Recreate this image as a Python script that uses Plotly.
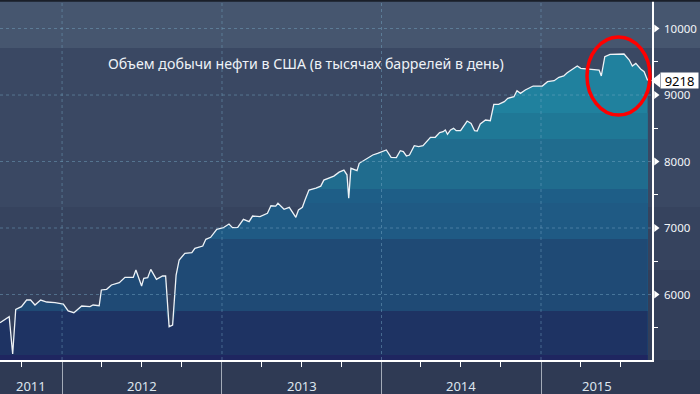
import plotly.graph_objects as go
import pandas as pd

# ---------------- data ----------------
dates = [
    "2011-08-12", "2011-09-02", "2011-09-10", "2011-09-17", "2011-09-30", "2011-10-12",
    "2011-10-21", "2011-10-31", "2011-11-13", "2011-11-27", "2011-12-16", "2012-01-04",
    "2012-01-15", "2012-01-28", "2012-02-15", "2012-03-05", "2012-03-12", "2012-03-26",
    "2012-03-31", "2012-04-12", "2012-04-23", "2012-05-11", "2012-05-24", "2012-06-12",
    "2012-06-18", "2012-07-01", "2012-07-06", "2012-07-15", "2012-07-22", "2012-08-04",
    "2012-08-18", "2012-08-25", "2012-09-02", "2012-09-10", "2012-09-18", "2012-09-25",
    "2012-10-08", "2012-10-24", "2012-10-31", "2012-11-18", "2012-11-25", "2012-12-06",
    "2012-12-20", "2013-01-04", "2013-01-17", "2013-01-25", "2013-02-06", "2013-02-19",
    "2013-03-04", "2013-03-12", "2013-03-29", "2013-04-15", "2013-04-23", "2013-05-04",
    "2013-05-09", "2013-05-23", "2013-06-04", "2013-06-19", "2013-06-25", "2013-07-04",
    "2013-07-10", "2013-07-19", "2013-08-04", "2013-08-15", "2013-08-22", "2013-09-03",
    "2013-09-14", "2013-09-26", "2013-10-07", "2013-10-14", "2013-10-18", "2013-10-23",
    "2013-11-06", "2013-11-11", "2013-11-26", "2013-12-04", "2013-12-12", "2013-12-23",
    "2014-01-02", "2014-01-12", "2014-01-23", "2014-02-04", "2014-02-13", "2014-02-20",
    "2014-02-27", "2014-03-06", "2014-03-17", "2014-03-27", "2014-04-06", "2014-04-23",
    "2014-05-04", "2014-05-14", "2014-05-22", "2014-05-27", "2014-06-01", "2014-06-08",
    "2014-06-15", "2014-06-21", "2014-07-01", "2014-07-16", "2014-07-25", "2014-08-02",
    "2014-08-08", "2014-08-15", "2014-08-27", "2014-09-07", "2014-09-15", "2014-09-26",
    "2014-10-09", "2014-10-17", "2014-10-31", "2014-11-07", "2014-11-15", "2014-11-26",
    "2014-12-14", "2015-01-04", "2015-01-16", "2015-01-23", "2015-01-31", "2015-02-11",
    "2015-02-22", "2015-03-02", "2015-03-16", "2015-03-25", "2015-04-02", "2015-04-17",
    "2015-05-14", "2015-05-19", "2015-05-27", "2015-06-08", "2015-06-25", "2015-07-10",
    "2015-07-22", "2015-07-29", "2015-08-06", "2015-08-17", "2015-08-25", "2015-09-02",
]
production = [
    5576, 5666, 5105, 5777, 5817, 5917,
    5917, 5842, 5917, 5887, 5877, 5857,
    5752, 5726, 5827, 5817, 5842, 5832,
    6068, 6078, 6143, 6178, 6258, 6258,
    6368, 6128, 6243, 6253, 6378, 6228,
    6278, 6278, 5516, 5541, 6293, 6519,
    6619, 6629, 6695, 6729, 6830, 6860,
    6980, 7005, 7060, 7005, 7010, 7130,
    7095, 7180, 7170, 7221, 7335, 7330,
    7371, 7281, 7311, 7161, 7271, 7311,
    7421, 7571, 7600, 7630, 7720, 7750,
    7780, 7840, 7870, 7800, 7450, 7898,
    7862, 7973, 8033, 8063, 8098, 8123,
    8148, 8173, 8063, 8058, 8163, 8148,
    8083, 8098, 8238, 8223, 8238, 8364,
    8364, 8434, 8449, 8474, 8409, 8474,
    8499, 8464, 8464, 8609, 8574, 8464,
    8459, 8564, 8624, 8614, 8860, 8860,
    8900, 8950, 8975, 9065, 9025, 9075,
    9135, 9135, 9200, 9211, 9215, 9266,
    9286, 9336, 9401, 9436, 9401, 9391,
    9376, 9286, 9576, 9612, 9617, 9617,
    9526, 9436, 9476, 9391, 9351, 9218,
]
title_text = "Объем добычи нефти в США (в тысячах баррелей в день)"
last_label = "9218"
y_ticks = [6000, 7000, 8000, 9000, 10000]
y_minor = [5500, 6500, 7500, 8500, 9500]
year_starts = ["2012-01-01", "2013-01-01", "2014-01-01", "2015-01-01"]
year_labels = ["2011", "2012", "2013", "2014", "2015"]
quarter_ticks = ["2011-10-01", "2012-04-01", "2012-07-01", "2012-10-01",
                 "2013-04-01", "2013-07-01", "2013-10-01", "2014-04-01",
                 "2014-07-01", "2014-10-01", "2015-04-01", "2015-07-01"]
x_range = ["2011-08-12", "2015-09-12"]
y_range = [5015, 10429]

# ---------------- style ----------------
W, H = 700, 394
PW, PH = 652.0, 360.0          # plot area size in px (left/top margins are 0)
band_tops = [None, 8729, 8338, 7586, 7376, 6835, 5752, 5090]
band_colors = ["#20819e", "#1f7896", "#206c8e", "#1e5e87", "#1f5a84",
               "#1f4a75", "#1e3363", "#1f2660"]
bg_bands = [  # (paper y0, y1, colour)
    (0.8667, 1.0, "#46566f"),
    (0.425, 0.8667, "#3a4863"),
    (0.25, 0.425, "#36435e"),
    (0.0, 0.25, "#333f5a"),
]
FONT = "Noto Sans"

fig = go.Figure()

for top, col in zip(band_tops, band_colors):
    yv = production if top is None else [min(v, top) for v in production]
    fig.add_trace(go.Scatter(x=dates, y=yv, mode="lines", fill="tozeroy",
                             fillcolor=col, line=dict(width=0), hoverinfo="skip",
                             showlegend=False))

fig.add_trace(go.Scatter(x=dates, y=production, mode="lines",
                         line=dict(color="#eef2f6", width=1.3), showlegend=False))

# marker layer spanning the full figure width in pixels (x2 axis = pixels)
fig.add_trace(go.Scatter(x=[PW + 4] * len(y_ticks), y=y_ticks, xaxis="x2", yaxis="y",
                         mode="markers", hoverinfo="skip", showlegend=False,
                         marker=dict(symbol="triangle-right", size=7, color="white")))
fig.add_trace(go.Scatter(x=[PW + 5], y=[production[-1]], xaxis="x2", yaxis="y",
                         mode="markers", hoverinfo="skip", showlegend=False,
                         marker=dict(symbol="triangle-left", size=12, color="white")))

shapes = []
for y0, y1, c in bg_bands:
    shapes.append(dict(type="rect", xref="paper", yref="paper", x0=-0.01, x1=1.1,
                       y0=y0, y1=y1, fillcolor=c, line=dict(width=0), layer="below"))
grid_col = "rgba(120,170,200,0.45)"
for t in y_ticks:
    shapes.append(dict(type="line", xref="x domain", yref="y", x0=0, x1=1, y0=t, y1=t,
                       line=dict(color=grid_col, width=1, dash="dot"), layer="above"))
for d in year_starts:
    shapes.append(dict(type="line", xref="x", yref="paper", x0=d, x1=d, y0=0, y1=1,
                       line=dict(color=grid_col, width=1, dash="dot"), layer="above"))
# red circle
shapes.append(dict(type="circle", xref="paper", yref="paper",
                   x0=587 / W, x1=650 / W, y0=(PH - 115) / PH, y1=(PH - 37) / PH,
                   line=dict(color="#ff0000", width=3.5), layer="above"))
# top dark strip
shapes.append(dict(type="rect", xref="paper", yref="paper", x0=-0.01, x1=1.1,
                   y0=0.995, y1=1.01, fillcolor="#1a1f29", line=dict(width=0), layer="above"))

annotations = [
    dict(text=title_text, xref="paper", yref="paper", x=305.5 / W, y=(PH - 63) / PH,
         showarrow=False, font=dict(family=FONT, size=14.2, color="#eef2f7"),
         xanchor="center", yanchor="middle"),
    dict(text=last_label, xref="paper", yref="y", x=660 / W, y=production[-1],
         xanchor="left", yanchor="middle", showarrow=False, bgcolor="white",
         width=37, height=15, borderpad=0,
         font=dict(family=FONT, size=13, color="black")),
]
x0 = pd.Timestamp(x_range[0]); x1 = pd.Timestamp(x_range[1])
bounds = [x0] + [pd.Timestamp(d) for d in year_starts] + [x1]
for i, lab in enumerate(year_labels):
    mid = bounds[i] + (bounds[i + 1] - bounds[i]) / 2
    annotations.append(dict(text=lab, xref="x", yref="paper", x=mid, y=-0.072,
                            showarrow=False, xanchor="center", yanchor="middle",
                            font=dict(family=FONT, size=13, color="#dde5ee")))

fig.update_layout(
    width=W, height=H,
    margin=dict(l=0, r=0, t=0, b=34),
    paper_bgcolor="#2f3a54", plot_bgcolor="rgba(0,0,0,0)",
    shapes=shapes, annotations=annotations,
    xaxis=dict(type="date", range=x_range, domain=[0, PW / W], showgrid=False,
               zeroline=False, showline=True, linecolor="white", linewidth=1.5,
               tickvals=year_starts, ticks="outside", ticklen=34, tickwidth=1,
               tickcolor="#a3abb8", showticklabels=False,
               minor=dict(tickvals=quarter_ticks, ticks="outside", ticklen=5,
                          tickwidth=1, tickcolor="white")),
    xaxis2=dict(domain=[0, 1], range=[0, W], visible=False, anchor="y"),
    yaxis=dict(side="right", anchor="x", range=y_range, showgrid=False, zeroline=False,
               showline=True, linecolor="white", linewidth=1.5,
               tickvals=y_ticks, ticktext=[str(t) for t in y_ticks],
               ticks="outside", ticklen=8, tickcolor="rgba(0,0,0,0)",
               tickfont=dict(family=FONT, size=11.5, color="#f2f5f8"),
               minor=dict(tickvals=y_minor, ticks="outside", ticklen=4,
                          tickwidth=1, tickcolor="white")),
    showlegend=False,
)

fig.write_html("out.html", config={"displayModeBar": False},
               post_script="document.body.style.margin='0px';document.body.style.overflow='hidden';")
